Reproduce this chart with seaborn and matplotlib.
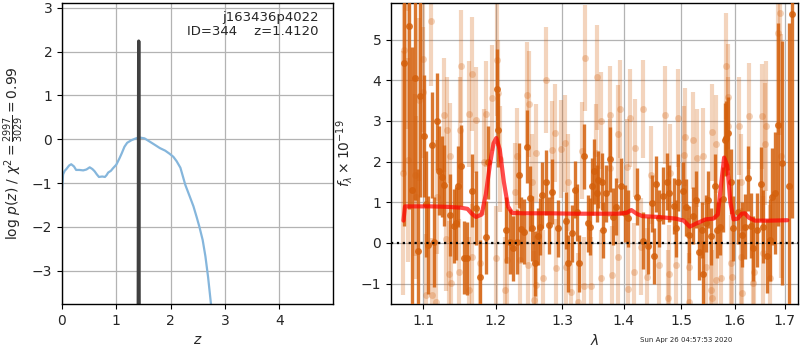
import numpy as np
import pandas as pd
import matplotlib
matplotlib.use('Agg')
import matplotlib.pyplot as plt
import seaborn as sns
from matplotlib.ticker import NullLocator, NullFormatter

# p(z) curve
pz_z = [0.0, 0.02, 0.05, 0.08, 0.13, 0.17, 0.22, 0.26, 0.32, 0.39, 0.45, 0.51, 0.56, 0.60,
        0.64, 0.68, 0.74, 0.79, 0.82, 0.85, 0.90, 0.94, 1.0, 1.06, 1.10, 1.15, 1.20, 1.28,
        1.36, 1.43, 1.52, 1.61, 1.70, 1.80, 1.90, 1.98, 2.05, 2.11, 2.18, 2.27, 2.35, 2.42,
        2.48, 2.53, 2.59, 2.64, 2.69, 2.74, 2.76]
pz_logp = [-1.15, -0.80, -0.72, -0.68, -0.60, -0.57, -0.62, -0.70, -0.70, -0.71, -0.69, -0.64,
           -0.68, -0.73, -0.80, -0.86, -0.85, -0.86, -0.82, -0.76, -0.72, -0.66, -0.58, -0.43,
           -0.32, -0.17, -0.08, -0.02, 0.02, 0.04, 0.02, -0.05, -0.12, -0.20, -0.26, -0.33,
           -0.40, -0.50, -0.65, -1.04, -1.30, -1.53, -1.78, -2.00, -2.30, -2.67, -3.15, -3.73, -3.95]
spike_z = [1.404, 1.410, 1.412, 1.414, 1.420]
spike_logp = [-4.0, 0.5, 2.24, 0.5, -4.0]
z_best = 1.4120

# model
model_wave = [1.074, 1.076, 1.09, 1.11, 1.13, 1.15, 1.16, 1.166, 1.172, 1.18, 1.186, 1.192,
              1.197, 1.201, 1.206, 1.212, 1.218, 1.224, 1.24, 1.28, 1.32, 1.36, 1.39, 1.405,
              1.413, 1.422, 1.432, 1.46, 1.49, 1.505, 1.516, 1.528, 1.545, 1.56, 1.568, 1.574,
              1.580, 1.586, 1.592, 1.598, 1.606, 1.614, 1.620, 1.628, 1.64, 1.67, 1.705]
model_flux = [0.55, 0.90, 0.90, 0.90, 0.89, 0.87, 0.84, 0.72, 0.64, 0.70, 1.20, 1.95,
              2.45, 2.58, 2.30, 1.50, 0.90, 0.74, 0.73, 0.73, 0.72, 0.72, 0.72, 0.74,
              0.81, 0.72, 0.66, 0.64, 0.60, 0.55, 0.40, 0.48, 0.58, 0.60, 0.70, 1.40,
              2.10, 1.90, 1.00, 0.58, 0.60, 0.72, 0.73, 0.62, 0.55, 0.55, 0.56]

# spectrum, first orient (dark)
dark_wave = [1.0751, 1.0816, 1.0856, 1.0895, 1.0927, 1.0957, 1.1013, 1.1036, 1.1058, 1.1112,
             1.1147, 1.1183, 1.1214, 1.1250, 1.1281, 1.1362, 1.1408, 1.1439, 1.1471, 1.1508,
             1.1553, 1.1600, 1.1659, 1.1715, 1.1775, 1.1855, 1.1887, 1.2015, 1.2036, 1.2147,
             1.2209, 1.2257, 1.2306, 1.2344, 1.2379, 1.2414, 1.2464, 1.2504, 1.2530, 1.2584,
             1.2630, 1.2656, 1.2692, 1.2748, 1.2800, 1.2846, 1.2930, 1.3056, 1.3097, 1.3150,
             1.3203, 1.3230, 1.3272, 1.3352, 1.3406, 1.3444, 1.3481, 1.3514, 1.3552, 1.3578,
             1.3639, 1.3656, 1.3710, 1.3766, 1.3822, 1.3879, 1.3952, 1.4020, 1.4076, 1.4219,
             1.4324, 1.4411, 1.4482, 1.4529, 1.4553, 1.4613, 1.4672, 1.4750, 1.4792, 1.4870,
             1.4912, 1.4948, 1.5034, 1.5095, 1.5144, 1.5224, 1.5280, 1.5330, 1.5392, 1.5399,
             1.5461, 1.5505, 1.5556, 1.5619, 1.5670, 1.5714, 1.5779, 1.5810, 1.5843, 1.5876,
             1.5926, 1.5972, 1.6071, 1.6149, 1.6200, 1.6267, 1.6319, 1.6366, 1.6432, 1.6518,
             1.6566, 1.6632, 1.6699, 1.6747, 1.6800, 1.6868, 1.6936, 1.7085, 1.7140]
dark_flux = [4.43, 5.34, 1.31, 4.06, -0.19, 3.62, 2.62, 0.95, -0.05, 2.41,
             0.03, 2.99, 1.78, 1.63, 1.42, 0.69, 0.42, 0.48, 1.39, 1.90,
             -0.36, -0.38, 1.29, 0.86, -0.83, 0.14, 1.98, 3.78, 2.78, 0.32,
             0.03, -0.13, 0.03, 1.67, 0.34, 0.28, 2.37, 1.10, 0.36, -0.50,
             0.17, 0.40, 1.18, 1.49, 0.44, 1.26, 0.36, 0.55, -0.50, 0.24,
             1.31, 0.76, -0.50, 2.13, 0.48, 0.40, 1.39, 1.76, 1.22, 1.55,
             1.51, 0.32, 1.22, 2.06, 0.65, 0.89, 1.40, 0.73, 0.61, 1.14,
             0.06, -0.07, 0.98, -0.32, 1.45, 0.61, 1.16, 1.51, 1.22, 0.91,
             0.36, 1.49, 1.29, 0.88, 0.20, 0.67, 1.06, -0.21, 0.32, -0.75,
             0.48, 1.06, 0.16, 1.39, 0.32, 0.40, 1.08, 2.54, 2.58, 2.70,
             1.51, 0.36, 0.77, 0.20, 0.40, 1.59, 0.42, -0.13, 0.32, 1.45,
             0.40, -0.32, 0.07, 1.14, 1.24, 2.91, 1.96, 1.40, 5.62]
dark_err = [4.0, 4.5, 3.5, 3.0, 2.0, 2.5, 1.5, 1.3, 1.2, 1.3,
            1.1, 1.2, 1.1, 1.0, 1.0, 1.0, 0.9, 0.9, 1.0, 1.0,
            0.9, 0.9, 0.9, 0.9, 0.9, 0.9, 0.9, 1.0, 0.9, 0.8,
            0.8, 0.8, 0.8, 0.8, 0.8, 0.8, 0.9, 0.8, 0.8, 0.8,
            0.7, 0.7, 0.8, 0.8, 0.7, 0.8, 0.7, 0.7, 0.7, 0.7,
            0.7, 0.7, 0.7, 0.8, 0.7, 0.7, 0.7, 0.8, 0.7, 0.7,
            0.7, 0.7, 0.7, 0.8, 0.7, 0.7, 0.7, 0.7, 0.7, 0.7,
            0.7, 0.7, 0.7, 0.7, 0.7, 0.7, 0.7, 0.7, 0.7, 0.7,
            0.7, 0.7, 0.7, 0.7, 0.7, 0.7, 0.7, 0.7, 0.7, 0.8,
            0.7, 0.7, 0.7, 0.8, 0.7, 0.7, 0.8, 0.9, 0.9, 0.9,
            0.8, 0.8, 0.8, 0.8, 0.8, 0.8, 0.8, 0.8, 0.9, 0.9,
            0.9, 0.9, 1.0, 1.2, 1.5, 2.5, 3.0, 4.0, 5.0]

# spectrum, second orient (light)
light_wave = [1.0740, 1.0741, 1.0790, 1.0800, 1.0890, 1.0900, 1.0940, 1.0990, 1.1000, 1.1040,
              1.1102, 1.1110, 1.1170, 1.1180, 1.1281, 1.1300, 1.1320, 1.1340, 1.1362, 1.1370,
              1.1480, 1.1500, 1.1517, 1.1615, 1.1625, 1.1660, 1.1665, 1.1725, 1.1775, 1.1840,
              1.1865, 1.1950, 1.2000, 1.2027, 1.2036, 1.2070, 1.2140, 1.2170, 1.2280, 1.2320,
              1.2360, 1.2455, 1.2480, 1.2487, 1.2540, 1.2570, 1.2600, 1.2605, 1.2700, 1.2748,
              1.2840, 1.2890, 1.2900, 1.2989, 1.3040, 1.3060, 1.3100, 1.3140, 1.3250, 1.3316,
              1.3340, 1.3363, 1.3460, 1.3540, 1.3550, 1.3620, 1.3625, 1.3766, 1.3770, 1.3800,
              1.3900, 1.3910, 1.3934, 1.4060, 1.4080, 1.4101, 1.4180, 1.4185, 1.4300, 1.4337,
              1.4400, 1.4464, 1.4600, 1.4708, 1.4770, 1.4780, 1.4797, 1.4910, 1.4948, 1.5050,
              1.5070, 1.5150, 1.5155, 1.5224, 1.5300, 1.5400, 1.5450, 1.5550, 1.5570, 1.5580,
              1.5650, 1.5655, 1.5750, 1.5843, 1.5876, 1.5880, 1.5940, 1.5960, 1.6090, 1.6120,
              1.6125, 1.6150, 1.6280, 1.6360, 1.6370, 1.6540, 1.6560, 1.6600, 1.6620, 1.6700,
              1.6855, 1.6890, 1.6930]
light_flux = [1.72, 4.75, 5.80, 2.04, 1.67, 1.12, 3.52, 4.52, 3.70, -1.28,
              5.47, -1.28, -1.45, 1.14, 3.15, 0.11, 2.78, -0.75, 2.13, -0.99,
              -0.71, 2.78, 4.34, -1.16, 3.17, 4.16, -0.34, 3.03, -0.50, 1.99,
              3.17, 3.56, -0.38, 4.51, 3.69, 2.06, -1.16, -0.42, 1.26, 2.13,
              -0.42, 3.65, -0.54, 3.42, 1.49, -1.40, -1.03, 2.21, -0.87, 4.01,
              2.29, 2.70, -0.62, 2.31, 2.45, -0.58, 1.49, -1.20, -1.44, 2.27,
              -1.06, 4.55, -1.06, 2.21, 4.07, 3.01, -0.87, 1.84, 3.15, -0.79,
              -0.34, 2.68, 3.29, 1.86, -1.14, 3.07, -0.71, 2.34, -0.09, 3.29,
              -0.83, 1.67, -0.54, 3.15, -1.36, -0.75, 1.72, -0.54, 3.07, 2.17,
              2.60, -0.58, -1.44, 2.52, 2.09, 2.13, -0.58, -1.16, -1.36, 2.72,
              2.44, -0.91, -0.87, 4.36, 3.60, 2.87, -0.50, -0.83, 2.87, -0.34,
              1.49, -1.22, 3.13, -0.99, -0.71, 3.11, -0.25, 2.44, 2.87, -0.87,
              5.16, 5.66, 2.13]
light_err = [3.0, 3.0, 3.0, 2.5, 2.0, 2.0, 2.0, 1.8, 1.6, 1.5,
             1.6, 1.4, 1.4, 1.4, 1.4, 1.3, 1.3, 1.3, 1.3, 1.3,
             1.3, 1.3, 1.4, 1.3, 1.3, 1.4, 1.3, 1.3, 1.3, 1.3,
             1.3, 1.3, 1.3, 1.4, 1.3, 1.3, 1.3, 1.3, 1.2, 1.2,
             1.2, 1.3, 1.2, 1.3, 1.2, 1.2, 1.2, 1.2, 1.2, 1.3,
             1.2, 1.2, 1.2, 1.2, 1.2, 1.2, 1.2, 1.2, 1.2, 1.2,
             1.2, 1.3, 1.2, 1.2, 1.3, 1.2, 1.2, 1.2, 1.2, 1.2,
             1.2, 1.2, 1.2, 1.2, 1.2, 1.2, 1.2, 1.2, 1.2, 1.2,
             1.2, 1.2, 1.2, 1.2, 1.2, 1.2, 1.2, 1.2, 1.2, 1.2,
             1.2, 1.2, 1.2, 1.2, 1.2, 1.2, 1.2, 1.2, 1.2, 1.2,
             1.2, 1.2, 1.2, 1.3, 1.3, 1.2, 1.2, 1.2, 1.2, 1.2,
             1.2, 1.2, 1.3, 1.3, 1.3, 1.3, 1.4, 1.5, 1.6, 1.8,
             2.5, 3.0, 3.0]

wave_ticks = [1.1, 1.2, 1.3, 1.4, 1.5, 1.6, 1.7]

sns.set_style('ticks')
plt.rcParams['font.family'] = ['DejaVu Sans']

fig = plt.figure(figsize=(8, 3.5), dpi=100)
ax1 = fig.add_axes([0.0775, 0.1314, 0.3388, 0.86])
ax2 = fig.add_axes([0.48875, 0.1314, 0.50875, 0.86])

# left panel: p(z)
pz = pd.DataFrame({'z': pz_z, 'logp': pz_logp})
sns.lineplot(data=pz, x='z', y='logp', ax=ax1, color='#85b6dc', lw=1.6, sort=False)
sp = pd.DataFrame({'z': spike_z, 'logp': spike_logp})
sns.lineplot(data=sp, x='z', y='logp', ax=ax1, color='0.25', lw=2.4, sort=False)
ax1.set_xlim(0, 4.99)
ax1.set_ylim(-3.76, 3.11)
ax1.set_xticks([0, 1, 2, 3, 4])
ax1.set_yticks([-3, -2, -1, 0, 1, 2, 3])
ax1.grid(True, color='0.7', lw=0.9)
ax1.set_xlabel('$z$')
ax1.set_ylabel(r'$\log\,p(z)$ / $\chi^2=\frac{2997}{3029}=0.99$')
ax1.text(0.948, 0.975, 'j163436p4022\nID=344    z=%.4f' % z_best, transform=ax1.transAxes,
         ha='right', va='top', fontsize=9.5, linespacing=1.1)

# right panel: spectrum
col = '#d4600c'
ax2.errorbar(light_wave, light_flux, yerr=light_err, fmt='o', color=col, alpha=0.27,
             ms=5, mew=0, elinewidth=3, capsize=0, zorder=2)
ax2.errorbar(dark_wave, dark_flux, yerr=dark_err, fmt='o', color=col, alpha=0.85,
             ms=5, mew=0, elinewidth=2.4, capsize=0, zorder=3)
md = pd.DataFrame({'wave': model_wave, 'flux': model_flux})
sns.lineplot(data=md, x='wave', y='flux', ax=ax2, color='red', lw=3, alpha=0.7, zorder=4)
ax2.axhline(0, color='k', ls=':', lw=1.6, zorder=5)
ax2.set_xscale('log')
ax2.set_xlim(1.058, 1.727)
ax2.set_ylim(-1.5, 5.9)
ax2.set_xticks(wave_ticks)
ax2.set_xticklabels([str(t) for t in wave_ticks])
ax2.xaxis.set_minor_locator(NullLocator())
ax2.xaxis.set_minor_formatter(NullFormatter())
ax2.set_yticks([-1, 0, 1, 2, 3, 4, 5])
ax2.grid(True, color='0.7', lw=0.9)
ax2.set_xlabel(r'$\lambda$')
ax2.set_ylabel(r'$f_\lambda\times10^{-19}$')

for ax in (ax1, ax2):
    for s in ax.spines.values():
        s.set_color('k')
        s.set_linewidth(1.0)
    ax.tick_params(labelsize=10, color='k', length=3.5)

fig.text(0.915, 0.022, 'Sun Apr 26 04:57:53 2020', ha='right', fontsize=5)

fig.savefig('out.png', dpi=100)
